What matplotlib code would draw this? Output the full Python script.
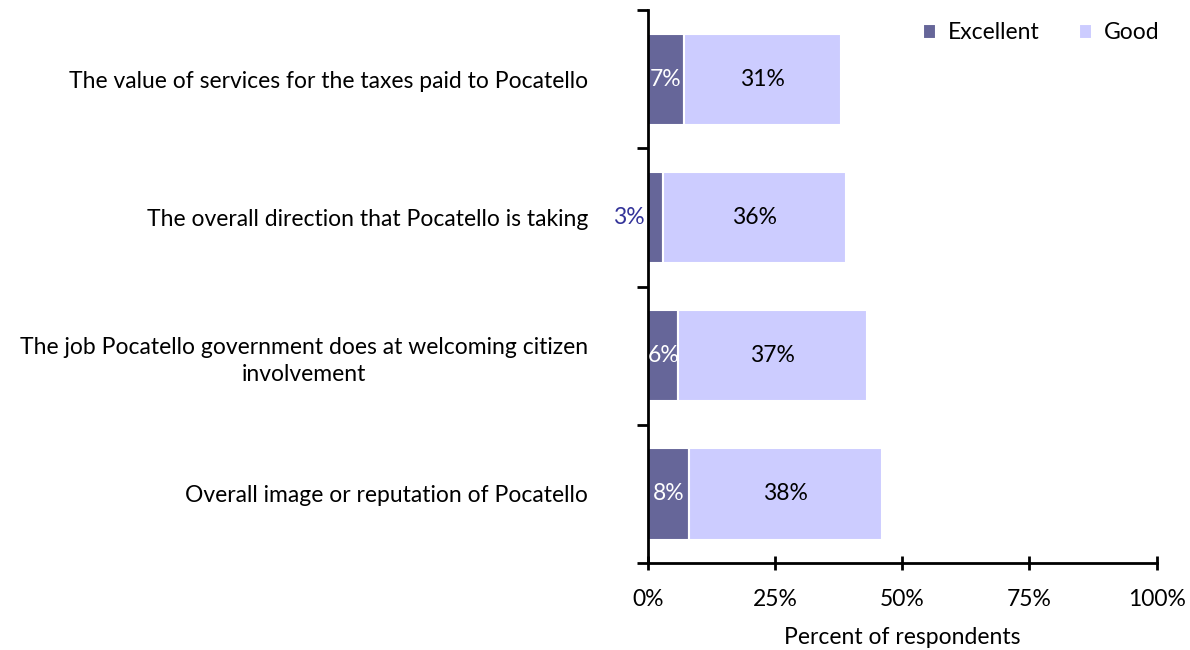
import numpy as np
import matplotlib
matplotlib.use("Agg")
import matplotlib.pyplot as plt

plt.rcParams.update({"font.family": ["Lato", "DejaVu Sans"], "font.size": 16.5})

categories = [
    "The value of services for the taxes paid to Pocatello",
    "The overall direction that Pocatello is taking",
    "The job Pocatello government does at welcoming citizen\ninvolvement",
    "Overall image or reputation of Pocatello",
]
excellent = [7, 3, 6, 8]
good = [31, 36, 37, 38]

c_exc = "#666699"
c_good = "#ccccff"

fig = plt.figure(figsize=(11.9, 6.5), dpi=100)
ax = fig.add_axes([0.5445, 0.1338, 0.4275, 0.8508])

y = np.arange(len(categories))
h = 0.66
ax.barh(y, excellent, height=h, color=c_exc, edgecolor="white", linewidth=1.5, label="Excellent")
ax.barh(y, good, left=excellent, height=h, color=c_good, edgecolor="white", linewidth=1.5, label="Good")

for yi, e, g in zip(y, excellent, good):
    if e >= 5:
        ax.text(e / 2, yi, f"{e}%", ha="center", va="center", color="white")
    else:
        ax.text(-0.6, yi, f"{e}%", ha="right", va="center", color="#333399")
    ax.text(e + g / 2, yi, f"{g}%", ha="center", va="center", color="black")

ax.set_xlim(0, 100)
ax.set_ylim(len(categories) - 0.5, -0.5)
ax.set_xticks([0, 25, 50, 75, 100])
ax.set_xticklabels(["0%", "25%", "50%", "75%", "100%"])
ax.set_xlabel("Percent of respondents", labelpad=12)

ax.set_yticks(y)
ax.set_yticklabels(categories, multialignment="center", linespacing=1.35)
ax.tick_params(axis="y", length=0, pad=43)
ax.set_yticks(np.arange(len(categories) + 1) - 0.5, minor=True)
ax.tick_params(axis="y", which="minor", length=8, width=2, direction="out")
ax.tick_params(axis="x", length=10, width=2, direction="inout", pad=14)

for s in ["top", "right"]:
    ax.spines[s].set_visible(False)
ax.spines["left"].set_linewidth(2)
ax.spines["bottom"].set_linewidth(2)

ax.legend(loc="upper right", bbox_to_anchor=(1.046, 1.015), ncol=2, frameon=False,
          handlelength=0.6, handleheight=0.6, handletextpad=0.5, columnspacing=1.7)

fig.savefig("out.png", dpi=100)
